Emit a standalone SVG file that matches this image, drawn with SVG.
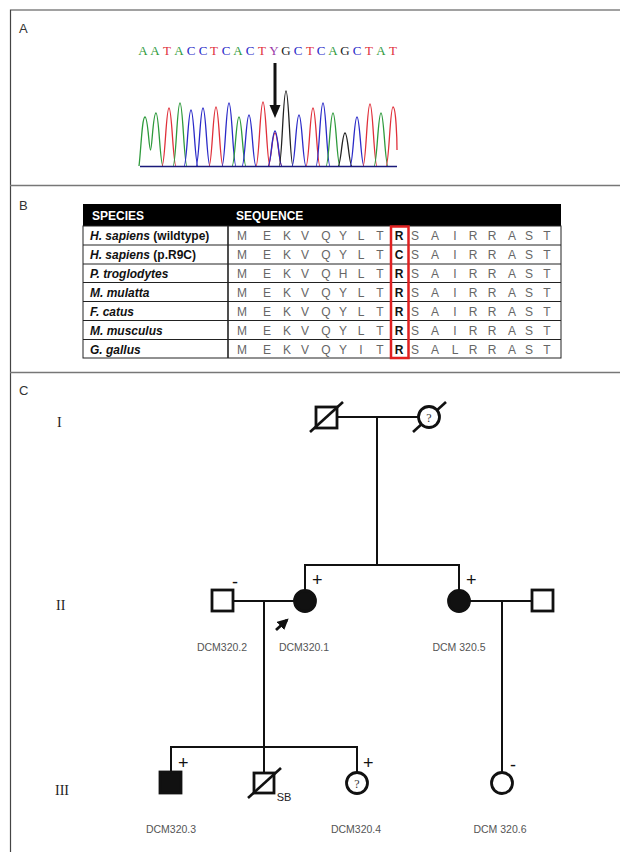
<svg xmlns="http://www.w3.org/2000/svg" width="620" height="852" viewBox="0 0 620 852">
<defs>
<style>
.plab{font-family:"Liberation Sans",Arial,sans-serif;font-size:13px;fill:#333}
.seq{font-family:"Liberation Serif","Times New Roman",serif;font-size:13px;text-anchor:middle}
.g{fill:#2e9a3c}.r{fill:#e0303a}.b{fill:#2a2ac8}.k{fill:#222}.y{fill:#9a3aa8}
.pk{fill:none;stroke-width:1.3}
.pg{stroke:#2e9a3c}.pr{stroke:#e0303a}.pb{stroke:#2a2ac8}.pkk{stroke:#222}.py{stroke:#9a3aa8}
.sp{font-family:"Liberation Sans",Arial,sans-serif;font-size:12px;font-weight:bold;fill:#111}
.hd{font-family:"Liberation Sans",Arial,sans-serif;font-size:12px;font-weight:bold;fill:#fff}
.aa{font-family:"Liberation Sans",Arial,sans-serif;font-size:12px;fill:#666;text-anchor:middle}
.aab{font-family:"Liberation Sans",Arial,sans-serif;font-size:12px;font-weight:bold;fill:#111;text-anchor:middle}
.rom{font-family:"Liberation Serif","Times New Roman",serif;font-size:14px;fill:#222}
.id{font-family:"Liberation Sans",Arial,sans-serif;font-size:10.5px;fill:#555;text-anchor:middle}
.sign{font-family:"Liberation Sans",Arial,sans-serif;font-size:18px;fill:#111}
.q{font-family:"Liberation Serif","Times New Roman",serif;font-size:12px;fill:#333;text-anchor:middle}
.ln{stroke:#111;stroke-width:2;fill:none}
.sym{stroke:#111;stroke-width:2.8;fill:#fff}
.aff{stroke:#111;stroke-width:2.8;fill:#111}
.dead{stroke:#111;stroke-width:2.6}
</style>
<marker id="ah" viewBox="0 0 10 10" refX="8" refY="5" markerWidth="4" markerHeight="4" orient="auto">
<path d="M0,0 L10,5 L0,10 z" fill="#111"/>
</marker>
</defs>
<rect x="0" y="0" width="620" height="852" fill="#fff"/>
<g id="frame">
<path d="M10.5,852 L10.5,10 L620,10" fill="none" stroke="#444" stroke-width="1.2"/>
<line x1="10" y1="185.5" x2="620" y2="185.5" stroke="#777" stroke-width="1.6"/>
<line x1="10" y1="372.5" x2="620" y2="372.5" stroke="#777" stroke-width="1.6"/>
</g>
<g id="panelA">
<text class="plab" x="19" y="33">A</text>
<g id="sequence">
<text class="seq g" x="143" y="55">A</text>
<text class="seq g" x="155" y="55">A</text>
<text class="seq r" x="167" y="55">T</text>
<text class="seq g" x="179" y="55">A</text>
<text class="seq b" x="191" y="55">C</text>
<text class="seq b" x="203" y="55">C</text>
<text class="seq r" x="214" y="55">T</text>
<text class="seq b" x="226" y="55">C</text>
<text class="seq g" x="238" y="55">A</text>
<text class="seq b" x="250" y="55">C</text>
<text class="seq r" x="262" y="55">T</text>
<text class="seq y" x="274" y="55">Y</text>
<text class="seq k" x="286" y="55">G</text>
<text class="seq b" x="298" y="55">C</text>
<text class="seq r" x="310" y="55">T</text>
<text class="seq b" x="321" y="55">C</text>
<text class="seq g" x="333" y="55">A</text>
<text class="seq k" x="345" y="55">G</text>
<text class="seq b" x="357" y="55">C</text>
<text class="seq r" x="369" y="55">T</text>
<text class="seq g" x="381" y="55">A</text>
<text class="seq r" x="393" y="55">T</text>
</g>
<g id="chromatogram">
<path class="pk pg" d="M139,166 C141,150 142,117 145,117 C148,117 149,150 150.5,150 C152,150 153,113 156,113 C159,113 160,166 163,166"/>
<path class="pk pr" d="M162,166 C165,166 166,108 169,108 C172,108 173,166 176,166"/>
<path class="pk pg" d="M173,166 C176,166 177,103 180,103 C183,103 184,166 187,166"/>
<path class="pk pb" d="M184,166 C187,166 188,110 191,110 C194,110 195,166 198,166"/>
<path class="pk pb" d="M196,166 C199,166 200,108 203,108 C206,108 207,166 210,166"/>
<path class="pk pr" d="M209,166 C212,166 213,107 216,107 C219,107 220,166 223,166"/>
<path class="pk pb" d="M222,166 C225,166 226,103 229,103 C232,103 233,166 236,166"/>
<path class="pk pg" d="M232,166 C235,166 236,117 239,117 C242,117 243,166 246,166"/>
<path class="pk pb" d="M242,166 C245,166 246,115 249,115 C252,115 253,166 256,166"/>
<path class="pk pr" d="M256,166 C259,166 260,102 263,102 C266,102 267,166 270,166"/>
<path class="pk pr" d="M268,166 C271,166 272,133 275,133 C278,133 279,166 282,166"/>
<path class="pk pb" d="M268,166 C271,166 272,131 275,131 C278,131 279,166 282,166"/>
<path class="pk pkk" d="M279,166 C282,166 283,91 286,91 C289,91 290,166 293,166"/>
<path class="pk pb" d="M292,166 C295,166 296,115 299,115 C302,115 303,166 306,166"/>
<path class="pk pr" d="M306,166 C309,166 310,108 313,108 C316,108 317,166 320,166"/>
<path class="pk pb" d="M316,166 C319,166 320,103 323,103 C326,103 327,166 330,166"/>
<path class="pk pg" d="M326,166 C329,166 330,113 333,113 C336,113 337,166 340,166"/>
<path class="pk pkk" d="M338,166 C341,166 342,133 345,133 C348,133 349,166 352,166"/>
<path class="pk pb" d="M350,166 C353,166 354,117 357,117 C360,117 361,166 364,166"/>
<path class="pk pr" d="M363,166 C366,166 367,104 370,104 C373,104 374,166 377,166"/>
<path class="pk pg" d="M374,166 C377,166 378,113 381,113 C384,113 385,166 388,166"/>
<path class="pk pr" d="M386,166 C389,166 390,107 393,107 C396,107 397,140 397,150"/>
<line x1="140" y1="166.5" x2="397" y2="166.5" stroke="#1a1a7a" stroke-width="1.6"/>
</g>
<g id="mutArrow">
<line x1="275" y1="63" x2="275" y2="108" stroke="#111" stroke-width="3"/>
<path d="M269.5,105 L280.5,105 L275,118 z" fill="#111"/>
</g>
</g>
<g id="panelB">
<text class="plab" x="19" y="210">B</text>
<g id="table">
<rect x="83" y="204" width="478" height="22" fill="#000"/>
<text class="hd" x="92" y="219.5">SPECIES</text>
<text class="hd" x="236" y="219.5">SEQUENCE</text>
<rect x="83" y="226" width="478" height="132" fill="#fff" stroke="#222" stroke-width="1"/>
<g stroke="#222" stroke-width="1">
<line x1="83" y1="245" x2="561" y2="245"/>
<line x1="83" y1="264" x2="561" y2="264"/>
<line x1="83" y1="282.5" x2="561" y2="282.5"/>
<line x1="83" y1="301.5" x2="561" y2="301.5"/>
<line x1="83" y1="320.5" x2="561" y2="320.5"/>
<line x1="83" y1="339.5" x2="561" y2="339.5"/>
<line x1="228" y1="226" x2="228" y2="358" stroke-width="1.6"/>
</g>
<g id="speciesNames">
<text class="sp" x="90" y="240"><tspan font-style="italic">H. sapiens</tspan> (wildtype)</text>
<text class="sp" x="90" y="259"><tspan font-style="italic">H. sapiens</tspan> (p.R9C)</text>
<text class="sp" x="90" y="278" font-style="italic">P. troglodytes</text>
<text class="sp" x="90" y="297" font-style="italic">M. mulatta</text>
<text class="sp" x="90" y="316" font-style="italic">F. catus</text>
<text class="sp" x="90" y="335" font-style="italic">M. musculus</text>
<text class="sp" x="90" y="354" font-style="italic">G. gallus</text>
</g>
<g id="seqRows">
<text class="aa" y="240"><tspan x="242">M</tspan><tspan x="267">E</tspan><tspan x="287">K</tspan><tspan x="305">V</tspan><tspan x="326">Q</tspan><tspan x="343">Y</tspan><tspan x="361">L</tspan><tspan x="380">T</tspan><tspan x="415">S</tspan><tspan x="435">A</tspan><tspan x="455">I</tspan><tspan x="473">R</tspan><tspan x="492">R</tspan><tspan x="512">A</tspan><tspan x="529">S</tspan><tspan x="547">T</tspan></text>
<text class="aa" y="259"><tspan x="242">M</tspan><tspan x="267">E</tspan><tspan x="287">K</tspan><tspan x="305">V</tspan><tspan x="326">Q</tspan><tspan x="343">Y</tspan><tspan x="361">L</tspan><tspan x="380">T</tspan><tspan x="415">S</tspan><tspan x="435">A</tspan><tspan x="455">I</tspan><tspan x="473">R</tspan><tspan x="492">R</tspan><tspan x="512">A</tspan><tspan x="529">S</tspan><tspan x="547">T</tspan></text>
<text class="aa" y="278"><tspan x="242">M</tspan><tspan x="267">E</tspan><tspan x="287">K</tspan><tspan x="305">V</tspan><tspan x="326">Q</tspan><tspan x="343">H</tspan><tspan x="361">L</tspan><tspan x="380">T</tspan><tspan x="415">S</tspan><tspan x="435">A</tspan><tspan x="455">I</tspan><tspan x="473">R</tspan><tspan x="492">R</tspan><tspan x="512">A</tspan><tspan x="529">S</tspan><tspan x="547">T</tspan></text>
<text class="aa" y="297"><tspan x="242">M</tspan><tspan x="267">E</tspan><tspan x="287">K</tspan><tspan x="305">V</tspan><tspan x="326">Q</tspan><tspan x="343">Y</tspan><tspan x="361">L</tspan><tspan x="380">T</tspan><tspan x="415">S</tspan><tspan x="435">A</tspan><tspan x="455">I</tspan><tspan x="473">R</tspan><tspan x="492">R</tspan><tspan x="512">A</tspan><tspan x="529">S</tspan><tspan x="547">T</tspan></text>
<text class="aa" y="316"><tspan x="242">M</tspan><tspan x="267">E</tspan><tspan x="287">K</tspan><tspan x="305">V</tspan><tspan x="326">Q</tspan><tspan x="343">Y</tspan><tspan x="361">L</tspan><tspan x="380">T</tspan><tspan x="415">S</tspan><tspan x="435">A</tspan><tspan x="455">I</tspan><tspan x="473">R</tspan><tspan x="492">R</tspan><tspan x="512">A</tspan><tspan x="529">S</tspan><tspan x="547">T</tspan></text>
<text class="aa" y="335"><tspan x="242">M</tspan><tspan x="267">E</tspan><tspan x="287">K</tspan><tspan x="305">V</tspan><tspan x="326">Q</tspan><tspan x="343">Y</tspan><tspan x="361">L</tspan><tspan x="380">T</tspan><tspan x="415">S</tspan><tspan x="435">A</tspan><tspan x="455">I</tspan><tspan x="473">R</tspan><tspan x="492">R</tspan><tspan x="512">A</tspan><tspan x="529">S</tspan><tspan x="547">T</tspan></text>
<text class="aa" y="354"><tspan x="242">M</tspan><tspan x="267">E</tspan><tspan x="287">K</tspan><tspan x="305">V</tspan><tspan x="326">Q</tspan><tspan x="343">Y</tspan><tspan x="361">I</tspan><tspan x="380">T</tspan><tspan x="415">S</tspan><tspan x="435">A</tspan><tspan x="455">L</tspan><tspan x="473">R</tspan><tspan x="492">R</tspan><tspan x="512">A</tspan><tspan x="529">S</tspan><tspan x="547">T</tspan></text>
</g>
<g id="pos9">
<text class="aab" x="399" y="240">R</text>
<text class="aab" x="399" y="259">C</text>
<text class="aab" x="399" y="278">R</text>
<text class="aab" x="399" y="297">R</text>
<text class="aab" x="399" y="316">R</text>
<text class="aab" x="399" y="335">R</text>
<text class="aab" x="399" y="354">R</text>
<rect x="391" y="226.5" width="17.5" height="131.5" fill="none" stroke="#e02020" stroke-width="2.5"/>
</g>
</g>
</g>
<g id="panelC">
<text class="plab" x="19" y="395">C</text>
<text class="rom" x="57" y="427">I</text>
<text class="rom" x="56" y="610">II</text>
<text class="rom" x="55" y="795">III</text>
</g>
<g id="connectors">
<line class="ln" x1="337" y1="417" x2="418" y2="417"/>
<line class="ln" x1="377" y1="417" x2="377" y2="565"/>
<polyline class="ln" points="305,590 305,565 459,565 459,590"/>
<line class="ln" x1="233" y1="601" x2="294" y2="601"/>
<line class="ln" x1="470" y1="601" x2="532" y2="601"/>
<line class="ln" x1="264" y1="601" x2="264" y2="773"/>
<polyline class="ln" points="171,772 171,747 357,747 357,772"/>
<line class="ln" x1="502" y1="601" x2="502" y2="772"/>
</g>
<g id="I1">
<rect class="sym" x="316" y="407" width="21" height="21"/>
<line class="dead" x1="310" y1="432" x2="343" y2="402"/>
</g>
<g id="I2">
<line class="dead" x1="413" y1="432" x2="446" y2="402"/>
<circle class="sym" cx="429" cy="417" r="10.5"/>
<text class="q" x="429" y="421.5">?</text>
</g>
<g id="DCM320.2">
<rect class="sym" x="212" y="590" width="21" height="21"/>
<text class="sign" x="232" y="588">-</text>
<text class="id" x="222" y="651">DCM320.2</text>
</g>
<g id="DCM320.1">
<circle class="aff" cx="305" cy="601" r="10.5"/>
<text class="sign" x="312" y="586">+</text>
<text class="id" x="304" y="651">DCM320.1</text>
<line x1="276" y1="630" x2="287" y2="620" stroke="#111" stroke-width="2.8" marker-end="url(#ah)"/>
</g>
<g id="DCM320.5">
<circle class="aff" cx="459" cy="601" r="10.5"/>
<text class="sign" x="466" y="586">+</text>
<text class="id" x="459" y="651">DCM 320.5</text>
</g>
<g id="II4">
<rect class="sym" x="532" y="590" width="21" height="21"/>
</g>
<g id="DCM320.3">
<rect class="aff" x="160" y="772" width="21" height="21"/>
<text class="sign" x="178" y="769">+</text>
<text class="id" x="171" y="833">DCM320.3</text>
</g>
<g id="SB">
<rect class="sym" x="254" y="773" width="20" height="20"/>
<line class="dead" x1="248" y1="798" x2="281" y2="768"/>
<text class="id" x="284" y="801" style="font-size:11px;fill:#222">SB</text>
</g>
<g id="DCM320.4">
<circle class="sym" cx="357" cy="783" r="10.5"/>
<text class="q" x="357" y="787.5">?</text>
<text class="sign" x="363" y="769">+</text>
<text class="id" x="356" y="833">DCM320.4</text>
</g>
<g id="DCM320.6">
<circle class="sym" cx="502" cy="783" r="10.5"/>
<text class="sign" x="510" y="771">-</text>
<text class="id" x="500" y="833">DCM 320.6</text>
</g>
</svg>
